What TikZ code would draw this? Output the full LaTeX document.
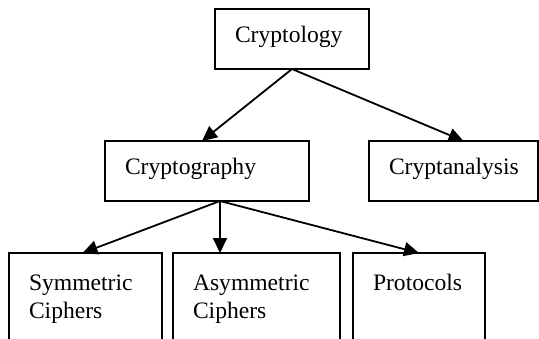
\documentclass[tikz,border=0pt]{standalone}
\usepackage{fontspec}
\setmainfont{Liberation Serif}
\usetikzlibrary{arrows.meta}

\begin{document}
\begin{tikzpicture}[
    % One unit is one pixel of the layout, y running downwards
    x=1pt, y=-1pt,
    % Define styles for the elements
    box_style/.style={draw=black, line width=2pt, anchor=north west, outer sep=0pt,
      inner xsep=20pt, inner ysep=0pt, align=left,
      font=\fontsize{23.6}{28}\selectfont},
    top_box/.style={box_style, text height=33pt, text depth=27pt},
    low_box/.style={box_style, text height=37pt, text depth=73pt},
    arrow_style/.style={draw=black, line width=1.8pt, -{Triangle[length=15pt, width=14pt]}}
  ]

  % --- Step 1: Fix the frame ---
  % The lower boxes run past the bottom edge, so everything is clipped.
  \clip (0,0) rectangle (539,338);

  % --- Step 2: The three levels of boxes ---
  \node[top_box, text width=114pt] (cryptology) at (215,9) {Cryptology};

  \node[top_box, text width=164pt] (cryptography) at (105,141) {Cryptography};
  \node[top_box, text width=129pt] (cryptanalysis) at (369,141) {Cryptanalysis};

  \node[low_box, text width=113pt] (symmetric) at (9,253) {Symmetric\\Ciphers};
  \node[low_box, text width=127pt] (asymmetric) at (173,253) {Asymmetric\\Ciphers};
  \node[low_box, text width=92pt] (protocols) at (353,253) {Protocols};

  % --- Step 3: The arrows between the levels ---
  \draw[arrow_style] (cryptology.south) -- ([xshift=-5pt]cryptography.north);
  \draw[arrow_style] (cryptology.south) -- ([xshift=10pt]cryptanalysis.north);

  % All three branches leave from the same point under Cryptography
  \coordinate (fork) at ([xshift=13pt]cryptography.south);
  \draw[arrow_style] (fork) -- ([xshift=-3pt]symmetric.north);
  \draw[arrow_style] (fork) -- (fork |- asymmetric.north);
  \draw[arrow_style] (fork) -- (protocols.north);

\end{tikzpicture}
\end{document}
